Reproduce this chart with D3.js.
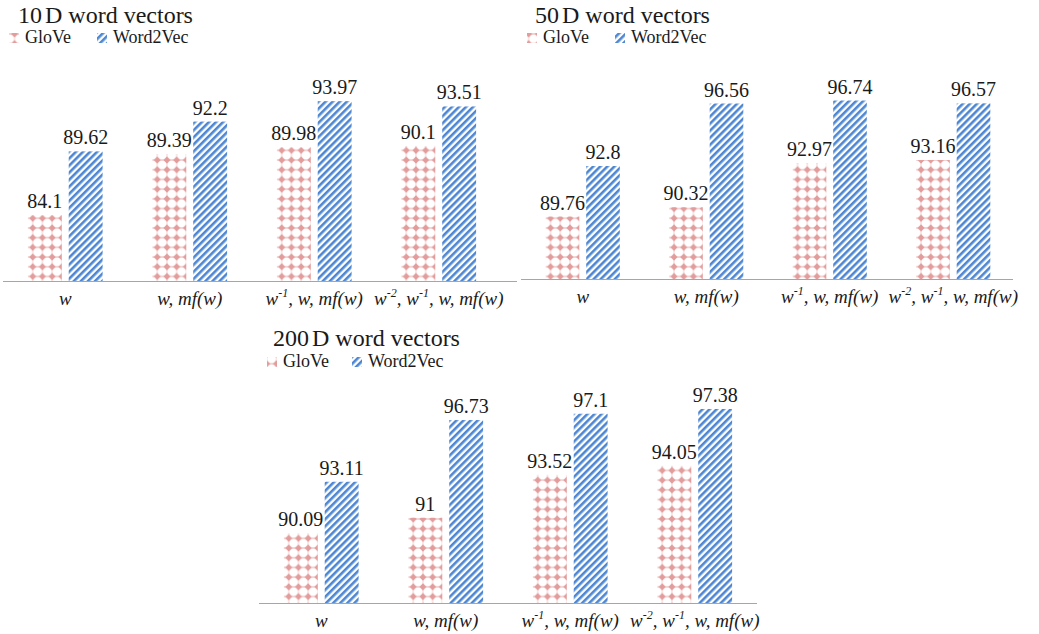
<!DOCTYPE html>
<html>
<head>
<meta charset="utf-8">
<script src="https://cdn.jsdelivr.net/npm/d3@7/dist/d3.min.js"></script>
<style>
  html, body { margin: 0; padding: 0; background: #fff; }
  svg { display: block; }
  svg text { font-family: "Liberation Serif", "Times New Roman", Times, "DejaVu Serif", serif; fill: #1a1a1a; }
</style>
</head>
<body>
<svg id="chart" width="1039" height="634"></svg>
<script>
// ---- data ----
const categories = ["w", "w, mf(w)", "w^-1, w, mf(w)", "w^-2, w^-1, w, mf(w)"];
const seriesNames = ["GloVe", "Word2Vec"];
const glove10 = [84.1, 89.39, 89.98, 90.1];
const w2v10 = [89.62, 92.2, 93.97, 93.51];
const glove50 = [89.76, 90.32, 92.97, 93.16];
const w2v50 = [92.8, 96.56, 96.74, 96.57];
const glove200 = [90.09, 91, 93.52, 94.05];
const w2v200 = [93.11, 96.73, 97.1, 97.38];
const titles = ["10", "50", "200"];

// ---- layout ----
const FONT = '"Liberation Serif", "Times New Roman", Times, "DejaVu Serif", serif';
const panels = [
  { title: titles[0], glove: glove10, w2v: w2v10, x0: 3, x1: 501, axEnd: 517, base: 281, yMin: 78.4, yMax: 96, top: 77.7,
    tx: 18, ty: 23, lx: 9, ly: 43, lx2: 97 },
  { title: titles[1], glove: glove50, w2v: w2v50, x0: 521, x1: 1015, axEnd: 1013, base: 279, yMin: 86, yMax: 98, top: 79.6,
    tx: 535, ty: 23, lx: 527, ly: 43, lx2: 615 },
  { title: titles[2], glove: glove200, w2v: w2v200, x0: 259, x1: 757, axEnd: 757, base: 603, yMin: 86, yMax: 98, top: 398.4,
    tx: 273, ty: 346, lx: 267, ly: 367, lx2: 352 }
];

const svg = d3.select("#chart");
const defs = svg.append("defs");

// GloVe pattern: pink diamonds grid
const pg = defs.append("pattern").attr("id", "pGlove").attr("patternUnits", "userSpaceOnUse")
  .attr("width", 9.7).attr("height", 9.7);
pg.append("line").attr("x1", 0).attr("x2", 9.7).attr("y1", 4.85).attr("y2", 4.85)
  .attr("stroke", "#efc4c4").attr("stroke-width", 1.4);
pg.append("line").attr("x1", 4.85).attr("x2", 4.85).attr("y1", 0).attr("y2", 9.7)
  .attr("stroke", "#f2d0d0").attr("stroke-width", 1);
pg.append("path").attr("d", "M4.85,1.2 L8.4,4.85 L4.85,8.5 L1.3,4.85 Z").attr("fill", "#e29c9c");

// Word2Vec pattern: blue diagonal stripes
const pw = defs.append("pattern").attr("id", "pW2v").attr("patternUnits", "userSpaceOnUse")
  .attr("width", 5).attr("height", 5).attr("patternTransform", "rotate(45)");
pw.append("rect").attr("width", 5).attr("height", 5).attr("fill", "#ffffff");
pw.append("rect").attr("x", 0).attr("width", 2.6).attr("height", 5).attr("fill", "#4d86d2");

const fills = { GloVe: "url(#pGlove)", Word2Vec: "url(#pW2v)" };

function addCatLabel(g, label, x, y) {
  const t = g.append("text").attr("x", x).attr("y", y).attr("text-anchor", "middle")
    .attr("font-family", FONT).attr("font-size", 19).attr("font-style", "italic");
  const parts = label.split(/(\^-\d)/).filter(s => s.length);
  let pendingDy = 0;
  parts.forEach(p => {
    if (p.startsWith("^")) {
      t.append("tspan").text(p.slice(1)).attr("font-size", 12).attr("dy", -8);
      pendingDy = 8;
    } else {
      const ts = t.append("tspan").text(p);
      if (pendingDy) { ts.attr("dy", pendingDy); pendingDy = 0; }
    }
  });
}

panels.forEach(p => {
  const g = svg.append("g");
  const x = d3.scaleBand().domain(categories).range([p.x0, p.x1]).paddingInner(0.4).paddingOuter(0.2);
  const xs = d3.scaleBand().domain(seriesNames).range([0, x.bandwidth()]).paddingInner(0.17);
  const y = d3.scaleLinear().domain([p.yMin, p.yMax]).range([p.base, p.top]);

  const rows = categories.map((c, i) => ({ cat: c, vals: [
    { s: "GloVe", v: p.glove[i] }, { s: "Word2Vec", v: p.w2v[i] }] }));

  const grp = g.selectAll("g.cat").data(rows).join("g").attr("class", "cat")
    .attr("transform", d => `translate(${x(d.cat)},0)`);
  grp.selectAll("rect").data(d => d.vals).join("rect")
    .attr("x", d => xs(d.s)).attr("width", xs.bandwidth())
    .attr("y", d => y(d.v)).attr("height", d => y(p.yMin) - y(d.v))
    .attr("fill", d => fills[d.s]);
  grp.selectAll("text").data(d => d.vals).join("text")
    .attr("x", d => xs(d.s) + xs.bandwidth() / 2).attr("y", d => y(d.v) - 7)
    .attr("text-anchor", "middle").attr("font-family", FONT).attr("font-size", 20)
    .text(d => d.v);

  // axis line
  g.append("line").attr("x1", p.x0).attr("x2", p.axEnd).attr("y1", p.base + 0.5).attr("y2", p.base + 0.5)
    .attr("stroke", "#a6a6a6").attr("stroke-width", 1.2);
  categories.forEach(c => addCatLabel(g, c, x(c) + x.bandwidth() / 2, p.base + 24));

  // title
  const t = g.append("text").attr("x", p.tx).attr("y", p.ty).attr("font-family", FONT).attr("font-size", 24);
  t.append("tspan").text(p.title);
  t.append("tspan").attr("dx", 3).text("D word vectors");

  // legend
  g.append("rect").attr("x", p.lx).attr("y", p.ly - 10).attr("width", 10).attr("height", 10).attr("fill", fills.GloVe);
  g.append("text").attr("x", p.lx + 16).attr("y", p.ly).attr("font-family", FONT).attr("font-size", 18).text("GloVe");
  g.append("rect").attr("x", p.lx2).attr("y", p.ly - 10).attr("width", 10).attr("height", 10).attr("fill", fills.Word2Vec);
  g.append("text").attr("x", p.lx2 + 16).attr("y", p.ly).attr("font-family", FONT).attr("font-size", 18).text("Word2Vec");
});
</script>
</body>
</html>
